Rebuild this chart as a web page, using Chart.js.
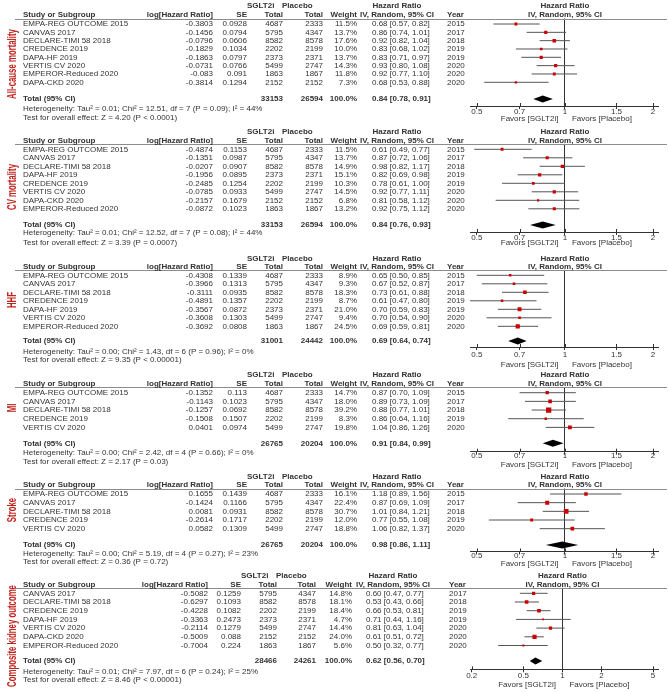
<!DOCTYPE html>
<html><head><meta charset="utf-8">
<script src="https://cdn.jsdelivr.net/npm/chart.js@4.4.0/dist/chart.umd.min.js"></script>
<style>
html,body{margin:0;padding:0;background:#fff;}
#wrap{position:relative;width:669px;height:692px;overflow:hidden;background:#fff;}
#wrap canvas{position:absolute;left:0;}
</style></head><body><div id="wrap"></div>
<script>
// ================= DATA =================
const outcomeNames = ["All-cause mortality", "CV mortality", "HHF", "MI", "Stroke", "Composite kidney outcome"];
const xTicksMain = [0.5, 0.7, 1, 1.5, 2];
const xTicksKidney = [0.2, 0.5, 1, 2, 5];

// --- All-cause mortality ---
const acmStudies = ["EMPA-REG OUTCOME 2015", "CANVAS 2017", "DECLARE-TIMI 58 2018", "CREDENCE 2019", "DAPA-HF 2019", "VERTIS CV 2020", "EMPEROR-Reduced 2020", "DAPA-CKD 2020"];
const acmLogHR = [-0.3803, -0.1456, -0.0796, -0.1829, -0.1863, -0.0731, -0.083, -0.3814];
const acmSE = [0.0928, 0.0794, 0.0606, 0.1034, 0.0797, 0.0766, 0.091, 0.1294];
const acmSGLT2i = [4687, 5795, 8582, 2202, 2373, 5499, 1863, 2152];
const acmPlacebo = [2333, 4347, 8578, 2199, 2371, 2747, 1867, 2152];
const acmWeight = [11.5, 13.7, 17.6, 10.0, 13.7, 14.3, 11.8, 7.3];
const acmHR = [0.68, 0.86, 0.92, 0.83, 0.83, 0.93, 0.92, 0.68];
const acmLo = [0.57, 0.74, 0.82, 0.68, 0.71, 0.80, 0.77, 0.53];
const acmHi = [0.82, 1.01, 1.04, 1.02, 0.97, 1.08, 1.10, 0.88];
const acmYear = [2015, 2017, 2018, 2019, 2019, 2020, 2020, 2020];

// --- CV mortality ---
const cvStudies = ["EMPA-REG OUTCOME 2015", "CANVAS 2017", "DECLARE-TIMI 58 2018", "DAPA-HF 2019", "CREDENCE 2019", "VERTIS CV 2020", "DAPA-CKD 2020", "EMPEROR-Reduced 2020"];
const cvLogHR = [-0.4874, -0.1351, -0.0207, -0.1956, -0.2485, -0.0785, -0.2157, -0.0872];
const cvSE = [0.1153, 0.0987, 0.0907, 0.0895, 0.1254, 0.0933, 0.1679, 0.1023];
const cvSGLT2i = [4687, 5795, 8582, 2373, 2202, 5499, 2152, 1863];
const cvPlacebo = [2333, 4347, 8578, 2371, 2199, 2747, 2152, 1867];
const cvWeight = [11.5, 13.7, 14.9, 15.1, 10.3, 14.5, 6.8, 13.2];
const cvHR = [0.61, 0.87, 0.98, 0.82, 0.78, 0.92, 0.81, 0.92];
const cvLo = [0.49, 0.72, 0.82, 0.69, 0.61, 0.77, 0.58, 0.75];
const cvHi = [0.77, 1.06, 1.17, 0.98, 1.00, 1.11, 1.12, 1.12];
const cvYear = [2015, 2017, 2018, 2019, 2019, 2020, 2020, 2020];

// --- HHF ---
const hhfStudies = ["EMPA-REG OUTCOME 2015", "CANVAS 2017", "DECLARE-TIMI 58 2018", "CREDENCE 2019", "DAPA-HF 2019", "VERTIS CV 2020", "EMPEROR-Reduced 2020"];
const hhfLogHR = [-0.4308, -0.3966, -0.3111, -0.4891, -0.3567, -0.3608, -0.3692];
const hhfSE = [0.1339, 0.1313, 0.0935, 0.1357, 0.0872, 0.1303, 0.0808];
const hhfSGLT2i = [4687, 5795, 8582, 2202, 2373, 5499, 1863];
const hhfPlacebo = [2333, 4347, 8578, 2199, 2371, 2747, 1867];
const hhfWeight = [8.9, 9.3, 18.3, 8.7, 21.0, 9.4, 24.5];
const hhfHR = [0.65, 0.67, 0.73, 0.61, 0.70, 0.70, 0.69];
const hhfLo = [0.50, 0.52, 0.61, 0.47, 0.59, 0.54, 0.59];
const hhfHi = [0.85, 0.87, 0.88, 0.80, 0.83, 0.90, 0.81];
const hhfYear = [2015, 2017, 2018, 2019, 2019, 2020, 2020];

// --- MI ---
const miStudies = ["EMPA-REG OUTCOME 2015", "CANVAS 2017", "DECLARE-TIMI 58 2018", "CREDENCE 2019", "VERTIS CV 2020"];
const miLogHR = [-0.1352, -0.1143, -0.1257, -0.1508, 0.0401];
const miSE = [0.113, 0.1023, 0.0692, 0.1507, 0.0974];
const miSGLT2i = [4687, 5795, 8582, 2202, 5499];
const miPlacebo = [2333, 4347, 8578, 2199, 2747];
const miWeight = [14.7, 18.0, 39.2, 8.3, 19.8];
const miHR = [0.87, 0.89, 0.88, 0.86, 1.04];
const miLo = [0.70, 0.73, 0.77, 0.64, 0.86];
const miHi = [1.09, 1.09, 1.01, 1.16, 1.26];
const miYear = [2015, 2017, 2018, 2019, 2020];

// --- Stroke ---
const strokeStudies = ["EMPA-REG OUTCOME 2015", "CANVAS 2017", "DECLARE-TIMI 58 2018", "CREDENCE 2019", "VERTIS CV 2020"];
const strokeLogHR = [0.1655, -0.1424, 0.0081, -0.2614, 0.0582];
const strokeSE = [0.1439, 0.1166, 0.0931, 0.1717, 0.1309];
const strokeSGLT2i = [4687, 5795, 8582, 2202, 5499];
const strokePlacebo = [2333, 4347, 8578, 2199, 2747];
const strokeWeight = [16.1, 22.4, 30.7, 12.0, 18.8];
const strokeHR = [1.18, 0.87, 1.01, 0.77, 1.06];
const strokeLo = [0.89, 0.69, 0.84, 0.55, 0.82];
const strokeHi = [1.56, 1.09, 1.21, 1.08, 1.37];
const strokeYear = [2015, 2017, 2018, 2019, 2020];

// --- Composite kidney outcome ---
const kidStudies = ["CANVAS 2017", "DECLARE-TIMI 58 2018", "CREDENCE 2019", "DAPA-HF 2019", "VERTIS CV 2020", "DAPA-CKD 2020", "EMPEROR-Reduced 2020"];
const kidLogHR = [-0.5082, -0.6297, -0.4228, -0.3363, -0.2114, -0.5009, -0.7004];
const kidSE = [0.1259, 0.1093, 0.1082, 0.2473, 0.1279, 0.088, 0.224];
const kidSGLT2i = [5795, 8582, 2202, 2373, 5499, 2152, 1863];
const kidPlacebo = [4347, 8578, 2199, 2371, 2747, 2152, 1867];
const kidWeight = [14.8, 18.1, 18.4, 4.7, 14.4, 24.0, 5.6];
const kidHR = [0.60, 0.53, 0.66, 0.71, 0.81, 0.61, 0.50];
const kidLo = [0.47, 0.43, 0.53, 0.44, 0.63, 0.51, 0.32];
const kidHi = [0.77, 0.66, 0.81, 1.16, 1.04, 0.72, 0.77];
const kidYear = [2017, 2018, 2019, 2019, 2020, 2020, 2020];

// --- Pooled totals per outcome ---
const totalSGLT2i = [33153, 33153, 31001, 26765, 26765, 28466];
const totalPlacebo = [26594, 26594, 24442, 20204, 20204, 24261];
const totalHR = [0.84, 0.84, 0.69, 0.91, 0.98, 0.62];
const totalLo = [0.78, 0.76, 0.64, 0.84, 0.86, 0.56];
const totalHi = [0.91, 0.93, 0.74, 0.99, 1.11, 0.70];
const heterogeneityText = [
  "Heterogeneity: Tau\u00B2 = 0.01; Chi\u00B2 = 12.51, df = 7 (P = 0.09); I\u00B2 = 44%",
  "Heterogeneity: Tau\u00B2 = 0.01; Chi\u00B2 = 12.52, df = 7 (P = 0.08); I\u00B2 = 44%",
  "Heterogeneity: Tau\u00B2 = 0.00; Chi\u00B2 = 1.43, df = 6 (P = 0.96); I\u00B2 = 0%",
  "Heterogeneity: Tau\u00B2 = 0.00; Chi\u00B2 = 2.42, df = 4 (P = 0.66); I\u00B2 = 0%",
  "Heterogeneity: Tau\u00B2 = 0.00; Chi\u00B2 = 5.19, df = 4 (P = 0.27); I\u00B2 = 23%",
  "Heterogeneity: Tau\u00B2 = 0.01; Chi\u00B2 = 7.97, df = 6 (P = 0.24); I\u00B2 = 25%"
];
const overallEffectText = [
  "Test for overall effect: Z = 4.20 (P < 0.0001)",
  "Test for overall effect: Z = 3.39 (P = 0.0007)",
  "Test for overall effect: Z = 9.35 (P < 0.00001)",
  "Test for overall effect: Z = 2.17 (P = 0.03)",
  "Test for overall effect: Z = 0.36 (P = 0.72)",
  "Test for overall effect: Z = 8.46 (P < 0.00001)"
];

// ================= BUILD =================
const panels = [
  {studies: acmStudies, logHR: acmLogHR, se: acmSE, sg: acmSGLT2i, pl: acmPlacebo, w: acmWeight, hr: acmHR, lo: acmLo, hi: acmHi, yr: acmYear, ticks: xTicksMain},
  {studies: cvStudies, logHR: cvLogHR, se: cvSE, sg: cvSGLT2i, pl: cvPlacebo, w: cvWeight, hr: cvHR, lo: cvLo, hi: cvHi, yr: cvYear, ticks: xTicksMain},
  {studies: hhfStudies, logHR: hhfLogHR, se: hhfSE, sg: hhfSGLT2i, pl: hhfPlacebo, w: hhfWeight, hr: hhfHR, lo: hhfLo, hi: hhfHi, yr: hhfYear, ticks: xTicksMain},
  {studies: miStudies, logHR: miLogHR, se: miSE, sg: miSGLT2i, pl: miPlacebo, w: miWeight, hr: miHR, lo: miLo, hi: miHi, yr: miYear, ticks: xTicksMain},
  {studies: strokeStudies, logHR: strokeLogHR, se: strokeSE, sg: strokeSGLT2i, pl: strokePlacebo, w: strokeWeight, hr: strokeHR, lo: strokeLo, hi: strokeHi, yr: strokeYear, ticks: xTicksMain},
  {studies: kidStudies, logHR: kidLogHR, se: kidSE, sg: kidSGLT2i, pl: kidPlacebo, w: kidWeight, hr: kidHR, lo: kidLo, hi: kidHi, yr: kidYear, ticks: xTicksKidney}
];
panels.forEach((p, k) => {
  p.name = outcomeNames[k];
  p.totSg = totalSGLT2i[k]; p.totPl = totalPlacebo[k];
  p.totHR = totalHR[k]; p.totLo = totalLo[k]; p.totHi = totalHi[k];
  p.het = heterogeneityText[k]; p.test = overallEffectText[k];
});

// ================= LAYOUT (page pixels) =================
const layout = [
  {top: 0,   h: 125, sglt: 6,     col: 14.7,  first: 24,    rs: 8.33, total: 99,    het: 109,   test: 117.3, axis: 106,   tickOff: 6,   fav: 119,   label: 64,  xmin: 0.474, xmax: 2.08},
  {top: 125, h: 127, sglt: 131.7, col: 140.7, first: 149.3, rs: 8.5,  total: 225,   het: 233,   test: 242.7, axis: 232,   tickOff: 6,   fav: 243,   label: 187, xmin: 0.474, xmax: 2.08},
  {top: 252, h: 117, sglt: 258.7, col: 266.3, first: 275.3, rs: 8.5,  total: 341,   het: 351.7, test: 360,   axis: 347,   tickOff: 8,   fav: 364.3, label: 300, xmin: 0.474, xmax: 2.08},
  {top: 369, h: 101, sglt: 375,   col: 383.3, first: 392.7, rs: 8.67, total: 443.3, het: 452.7, test: 461.7, axis: 451.7, tickOff: 4.5, fav: 465,   label: 408, xmin: 0.474, xmax: 2.08},
  {top: 470, h: 100, sglt: 476.7, col: 484.7, first: 494,   rs: 8.67, total: 545,   het: 553.5, test: 561.7, axis: 551.5, tickOff: 4,   fav: 564,   label: 510, xmin: 0.474, xmax: 2.08},
  {top: 570, h: 122, sglt: 576,   col: 584.7, first: 593.3, rs: 8.7,  total: 661,   het: 671.7, test: 679.7, axis: 669.3, tickOff: 6.7, fav: 685,   label: 636, xmin: 0.194, xmax: 5.46}
];
const colsStd = {study: 23, logHR: 213, se: 247, sg: 283, pl: 323, w: 357, hrTxt: 372, year: 447, sgHdr: 247, plHdr: 282, hrHdr: 397};
const colsKid = {study: 23, logHR: 208, se: 241, sg: 277, pl: 316, w: 352, hrTxt: 366, year: 449, sgHdr: 241, plHdr: 276, hrHdr: 393};

const FONT = '"Liberation Sans", Arial, sans-serif';
const TXT = '#333';
const AXIS_H = 14;
const PLOT_L = 470, PLOT_R = 658;

function txt(ctx, s, x, y, align, bold) {
  ctx.font = (bold ? 'bold ' : '') + '8px ' + FONT;
  ctx.textAlign = align;
  ctx.textBaseline = 'middle';
  ctx.fillStyle = TXT;
  ctx.fillText(s, x, y);
}
function hrString(h, l, u) { return h.toFixed(2) + ' [' + l.toFixed(2) + ', ' + u.toFixed(2) + ']'; }

const wrap = document.getElementById('wrap');

panels.forEach((p, k) => {
  const L = layout[k];
  const C = k === 5 ? colsKid : colsStd;
  const cv = document.createElement('canvas');
  cv.width = 669; cv.height = L.h;
  cv.style.top = L.top + 'px';
  cv.style.width = '669px'; cv.style.height = L.h + 'px';
  wrap.appendChild(cv);

  const lineY = L.first - 5.5;
  const yMin = -(L.first - lineY) / L.rs;
  const yMax = (L.axis - L.first) / L.rs;
  const totalIdx = (L.total - L.first) / L.rs;
  const n = p.studies.length;

  const ciData = [];
  for (let i = 0; i < n; i++) {
    ciData.push({x: p.lo[i], y: i}, {x: p.hi[i], y: i}, {x: p.hi[i], y: null});
  }

  const tablePlugin = {
    id: 'forestTable' + k,
    afterDraw(chart) {
      const ctx = chart.ctx;
      const ys = chart.scales.y, xs = chart.scales.x;
      const off = L.top;
      ctx.save();
      // header underline
      ctx.strokeStyle = '#8c8c8c'; ctx.lineWidth = 1;
      ctx.beginPath(); ctx.moveTo(15, Math.round(lineY - off) + 0.5); ctx.lineTo(667, Math.round(lineY - off) + 0.5); ctx.stroke();
      // headers
      const y1 = L.sglt - off, y2 = L.col - off;
      txt(ctx, 'SGLT2i', C.sgHdr, y1, 'left', true);
      txt(ctx, 'Placebo', C.plHdr, y1, 'left', true);
      txt(ctx, 'Hazard Ratio', C.hrHdr, y1, 'center', true);
      txt(ctx, 'Hazard Ratio', xs.getPixelForValue(1), y1, 'center', true);
      txt(ctx, 'Study or Subgroup', C.study, y2, 'left', true);
      txt(ctx, 'log[Hazard Ratio]', C.logHR, y2, 'right', true);
      txt(ctx, 'SE', C.se, y2, 'right', true);
      txt(ctx, 'Total', C.sg, y2, 'right', true);
      txt(ctx, 'Total', C.pl, y2, 'right', true);
      txt(ctx, 'Weight', C.w, y2, 'right', true);
      txt(ctx, 'IV, Random, 95% CI', C.hrHdr, y2, 'center', true);
      txt(ctx, 'Year', C.year, y2, 'left', true);
      txt(ctx, 'IV, Random, 95% CI', xs.getPixelForValue(1), y2, 'center', true);
      // rows
      for (let i = 0; i < n; i++) {
        const y = ys.getPixelForValue(i);
        txt(ctx, p.studies[i], C.study, y, 'left', false);
        txt(ctx, String(p.logHR[i]), C.logHR, y, 'right', false);
        txt(ctx, String(p.se[i]), C.se, y, 'right', false);
        txt(ctx, String(p.sg[i]), C.sg, y, 'right', false);
        txt(ctx, String(p.pl[i]), C.pl, y, 'right', false);
        txt(ctx, p.w[i].toFixed(1) + '%', C.w, y, 'right', false);
        txt(ctx, hrString(p.hr[i], p.lo[i], p.hi[i]), C.hrTxt, y, 'left', false);
        txt(ctx, String(p.yr[i]), C.year, y, 'left', false);
      }
      // total row
      const yt = ys.getPixelForValue(totalIdx);
      txt(ctx, 'Total (95% CI)', C.study, yt, 'left', true);
      txt(ctx, String(p.totSg), C.sg, yt, 'right', true);
      txt(ctx, String(p.totPl), C.pl, yt, 'right', true);
      txt(ctx, '100.0%', C.w, yt, 'right', true);
      txt(ctx, hrString(p.totHR, p.totLo, p.totHi), C.hrTxt, yt, 'left', true);
      txt(ctx, p.het, C.study, L.het - off, 'left', false);
      txt(ctx, p.test, C.study, L.test - off, 'left', false);
      // diamond
      const xl = xs.getPixelForValue(p.totLo), xc = xs.getPixelForValue(p.totHR), xr = xs.getPixelForValue(p.totHi);
      ctx.fillStyle = '#000';
      ctx.beginPath();
      ctx.moveTo(xl, yt); ctx.lineTo(xc, yt - 3.5); ctx.lineTo(xr, yt); ctx.lineTo(xc, yt + 3.5); ctx.closePath();
      ctx.fill();
      // upward tick marks on axis
      const ab = chart.chartArea.bottom;
      ctx.strokeStyle = '#333'; ctx.lineWidth = 1;
      xs.ticks.forEach(t => {
        const px = Math.round(xs.getPixelForValue(t.value)) + 0.5;
        ctx.beginPath(); ctx.moveTo(px, ab - 3); ctx.lineTo(px, ab); ctx.stroke();
      });
      // favours labels
      const x1 = xs.getPixelForValue(1);
      txt(ctx, 'Favors [SGLT2i]', x1 - 6.5, L.fav - off, 'right', false);
      txt(ctx, 'Favors [Placebo]', x1 + 7, L.fav - off, 'left', false);
      // side outcome label (condensed bold)
      ctx.save();
      ctx.translate(12.5, L.label - off);
      ctx.rotate(-Math.PI / 2);
      ctx.scale(0.6, 1);
      ctx.font = 'bold 13px "Liberation Sans", Arial, sans-serif';
      ctx.textAlign = 'center'; ctx.textBaseline = 'middle';
      ctx.fillStyle = '#c0241e';
      ctx.fillText(p.name, 0, 0);
      ctx.restore();
      ctx.restore();
    }
  };

  new Chart(cv, {
    type: 'scatter',
    data: {
      datasets: [
        {
          data: p.hr.map((v, i) => ({x: v, y: i})),
          pointStyle: 'rect',
          pointRadius: p.w.map(v => Math.sqrt(v) * 0.6),
          backgroundColor: '#cc0000',
          borderWidth: 0,
          showLine: false
        },
        {
          data: ciData,
          showLine: true,
          spanGaps: false,
          pointRadius: 0,
          borderColor: '#555',
          borderWidth: 1
        }
      ]
    },
    options: {
      responsive: false,
      animation: false,
      devicePixelRatio: 1,
      events: [],
      layout: {padding: {left: PLOT_L, right: 669 - PLOT_R, top: lineY - L.top, bottom: L.h - (L.axis - L.top) - AXIS_H}},
      plugins: {legend: {display: false}, tooltip: {enabled: false}, title: {display: false}},
      scales: {
        x: {
          type: 'logarithmic',
          min: L.xmin, max: L.xmax,
          bounds: 'data',
          afterBuildTicks: ax => { ax.ticks = p.ticks.map(v => ({value: v})); },
          afterFit: ax => { ax.height = AXIS_H; },
          grid: {
            drawOnChartArea: true,
            color: c => (c.tick && c.tick.value === 1) ? '#333' : 'rgba(0,0,0,0)',
            tickColor: '#333',
            tickLength: 3,
            lineWidth: 1
          },
          border: {display: true, color: '#333', width: 1},
          ticks: {
            font: {family: FONT, size: 8, lineHeight: 1},
            color: TXT,
            padding: L.tickOff - 7,
            maxRotation: 0, minRotation: 0,
            autoSkip: false,
            callback: v => String(v)
          }
        },
        y: {type: 'linear', reverse: true, min: yMin, max: yMax, display: false, bounds: 'data'}
      }
    },
    plugins: [tablePlugin]
  });
});
</script>
</body></html>
